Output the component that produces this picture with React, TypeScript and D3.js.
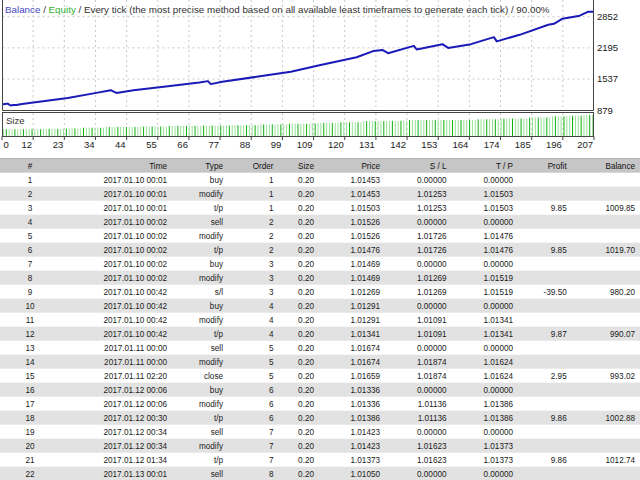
import React from "react";
import * as d3 from "d3";

// ---------- chart data ----------
const xTickLabels = ["0","12","23","34","44","55","66","77","88","99","109","120","131","142","153","164","174","185","196","207"];
const yTickValues = [879, 1537, 2195, 2852];

// balance curve: [trade index, balance]
const balanceIdx = [0,1,2,3,4,5,6,7,11,23,33,38,40,46,58,69,72,73,77,89,101,111,124,130,133,135,144,145,154,156,164,172,173,181,191,193,196,202,205,207];
const balanceVal = [1000,1009.85,1019.7,980.2,990.07,993.02,1002.88,1012.74,1042,1140,1246,1303,1246,1303,1388,1467,1494,1431,1479,1585,1692,1830,1997,2131,2152,2082,2237,2162,2273,2194,2273,2421,2332,2470,2682,2703,2810,2873,2958,2958];

// size bars as runs: count of bars, lot size
const sizeRunCounts = [14,8,6,8,12,10,12,10,10,10,10,8,8,8,8,24,8,10,8,6,5,4];
const sizeRunLots = [0.20,0.21,0.22,0.24,0.26,0.27,0.29,0.30,0.31,0.33,0.35,0.37,0.39,0.42,0.43,0.45,0.47,0.49,0.52,0.55,0.57,0.59];

// ---------- table data ----------
const headers = ["#","Time","Type","Order","Size","Price","S / L","T / P","Profit","Balance"];
const times = ["2017.01.10 00:01","2017.01.10 00:01","2017.01.10 00:01","2017.01.10 00:02","2017.01.10 00:02","2017.01.10 00:02","2017.01.10 00:02","2017.01.10 00:02","2017.01.10 00:42","2017.01.10 00:42","2017.01.10 00:42","2017.01.10 00:42","2017.01.11 00:00","2017.01.11 00:00","2017.01.11 02:20","2017.01.12 00:06","2017.01.12 00:06","2017.01.12 00:30","2017.01.12 00:34","2017.01.12 00:34","2017.01.12 01:34","2017.01.13 00:01"];
const types = ["buy","modify","t/p","sell","modify","t/p","buy","modify","s/l","buy","modify","t/p","sell","modify","close","buy","modify","t/p","sell","modify","t/p","sell"];
const orders = ["1","1","1","2","2","2","3","3","3","4","4","4","5","5","5","6","6","6","7","7","7","8"];
const sizes = ["0.20","0.20","0.20","0.20","0.20","0.20","0.20","0.20","0.20","0.20","0.20","0.20","0.20","0.20","0.20","0.20","0.20","0.20","0.20","0.20","0.20","0.20"];
const prices = ["1.01453","1.01453","1.01503","1.01526","1.01526","1.01476","1.01469","1.01469","1.01269","1.01291","1.01291","1.01341","1.01674","1.01674","1.01659","1.01336","1.01336","1.01386","1.01423","1.01423","1.01373","1.01050"];
const stopLosses = ["0.00000","1.01253","1.01253","0.00000","1.01726","1.01726","0.00000","1.01269","1.01269","0.00000","1.01091","1.01091","0.00000","1.01874","1.01874","0.00000","1.01136","1.01136","0.00000","1.01623","1.01623","0.00000"];
const takeProfits = ["0.00000","1.01503","1.01503","0.00000","1.01476","1.01476","0.00000","1.01519","1.01519","0.00000","1.01341","1.01341","0.00000","1.01624","1.01624","0.00000","1.01386","1.01386","0.00000","1.01373","1.01373","0.00000"];
const profits = ["","","9.85","","","9.85","","","-39.50","","","9.87","","","2.95","","","9.86","","","9.86",""];
const balances = ["","","1009.85","","","1019.70","","","980.20","","","990.07","","","993.02","","","1002.88","","","1012.74",""];

const FONT = "'Liberation Sans', Arial, sans-serif";

export default function App() {
  const xScale = d3.scaleLinear().domain([0, 207]).range([2, 594]);
  const tickScale = d3.scalePoint<string>().domain(xTickLabels).range([2, 594]);
  const yScale = d3.scaleLinear().domain([879, 2852]).range([110.3, 16.7]);
  const sizeScale = d3.scaleLinear().domain([0, 0.6]).range([136.5, 114.5]);

  const balance = balanceIdx.map((i, k) => ({ i, v: balanceVal[k] }));
  const line = d3.line<{ i: number; v: number }>().x(d => xScale(d.i)).y(d => yScale(d.v));

  const bars: number[] = [];
  sizeRunCounts.forEach((c, k) => { for (let j = 0; j < c; j++) bars.push(sizeRunLots[k]); });

  const cols = [
    { x: 30, anchor: "middle", get: (r: number) => String(r + 1) },
    { x: 167, anchor: "end", get: (r: number) => times[r] },
    { x: 223, anchor: "end", get: (r: number) => types[r] },
    { x: 273.5, anchor: "end", get: (r: number) => orders[r] },
    { x: 314, anchor: "end", get: (r: number) => sizes[r] },
    { x: 380, anchor: "end", get: (r: number) => prices[r] },
    { x: 446.5, anchor: "end", get: (r: number) => stopLosses[r] },
    { x: 513, anchor: "end", get: (r: number) => takeProfits[r] },
    { x: 566.7, anchor: "end", get: (r: number) => profits[r] },
    { x: 635, anchor: "end", get: (r: number) => balances[r] },
  ];
  const headerTop = 158.2;
  const rowH = 14;
  const firstRowTop = 172.7;
  const sx = 0.86;

  const innerTicks = xTickLabels.slice(1, -1);

  return (
    <svg width={640} height={480} style={{ position: "absolute", left: 0, top: 0, background: "#fff" }} fontFamily={FONT}>
      <rect x={0} y={0} width={640} height={480} fill="#fff" />
      <defs>
        <clipPath id="mainClip"><rect x={2.5} y={0} width={591} height={110} /></clipPath>
      </defs>
      {/* main chart grid */}
      {innerTicks.map(t => (
        <line key={"gv" + t} x1={tickScale(t)} x2={tickScale(t)} y1={0} y2={110.5} stroke="#c8c8c8" strokeDasharray="2,3" />
      ))}
      {yTickValues.slice(1).map(v => (
        <line key={"gh" + v} x1={2.5} x2={593.5} y1={yScale(v)} y2={yScale(v)} stroke="#c8c8c8" strokeDasharray="2,3" />
      ))}
      {/* balance line */}
      <path d={line(balance) || ""} fill="none" stroke="#1a1ab8" strokeWidth={2} strokeLinejoin="round" clipPath="url(#mainClip)" />
      {/* main frame */}
      <path d="M2.5,0 V110.5 H593.5 V0" fill="none" stroke="#444" strokeWidth={1} />
      {/* title */}
      <text x={5} y={13} fontSize={9.8} fill="#333">
        <tspan fill="#4646c8">Balance</tspan>
        <tspan> / </tspan>
        <tspan fill="#33b033">Equity</tspan>
        <tspan> / Every tick (the most precise method based on all available least timeframes to generate each tick) / 90.00%</tspan>
      </text>
      {/* y labels */}
      {yTickValues.map(v => (
        <text key={"yl" + v} x={597} y={yScale(v) + 3.4} fontSize={9.5} fill="#222">{v}</text>
      ))}
      {/* size panel */}
      {innerTicks.map(t => (
        <line key={"sv" + t} x1={tickScale(t)} x2={tickScale(t)} y1={113} y2={136.5} stroke="#c8c8c8" strokeDasharray="2,3" />
      ))}
      {bars.map((s, k) => (
        <rect key={"b" + k} x={xScale(k + 0.5) - 0.5} y={sizeScale(s)} width={1} height={136.5 - sizeScale(s)}
          fill={k % 3 === 1 ? "#10b010" : "#98e098"} />
      ))}
      <rect x={2.5} y={112.5} width={591} height={24} fill="none" stroke="#444" />
      <text x={6} y={124} fontSize={9.5} fill="#333">Size</text>
      {/* x ticks */}
      {xTickLabels.map((t, k) => (
        <g key={"xt" + t}>
          <line x1={tickScale(t)} x2={tickScale(t)} y1={136.5} y2={140} stroke="#444" />
          <text x={k === 0 ? (tickScale(t) as number) + 1.5 : (tickScale(t) as number) - 1} y={148} fontSize={9.5}
            textAnchor={k === 0 ? "start" : "end"} fill="#222">{t}</text>
        </g>
      ))}
      {/* table */}
      <rect x={0} y={headerTop} width={640} height={firstRowTop - headerTop} fill="#c6c6c6" />
      <line x1={0} x2={640} y1={headerTop + 0.5} y2={headerTop + 0.5} stroke="#b4b4b4" />
      {headers.map((h, c) => (
        <text key={"h" + c} transform={`translate(${cols[c].x},${headerTop + 10.3}) scale(${sx},1)`} fontSize={9.5}
          textAnchor={cols[c].anchor as any} fill="#111">{h}</text>
      ))}
      {times.map((_, r) => {
        const top = firstRowTop + r * rowH;
        return (
          <g key={"r" + r}>
            {r % 2 === 1 && <rect x={0} y={top} width={640} height={rowH} fill="#e2e2e2" />}
            {cols.map((c, ci) => (
              <text key={ci} transform={`translate(${c.x},${top + 10.5}) scale(${sx},1)`} fontSize={9.5}
                textAnchor={c.anchor as any} fill="#1a1a1a">{c.get(r)}</text>
            ))}
          </g>
        );
      })}
    </svg>
  );
}
